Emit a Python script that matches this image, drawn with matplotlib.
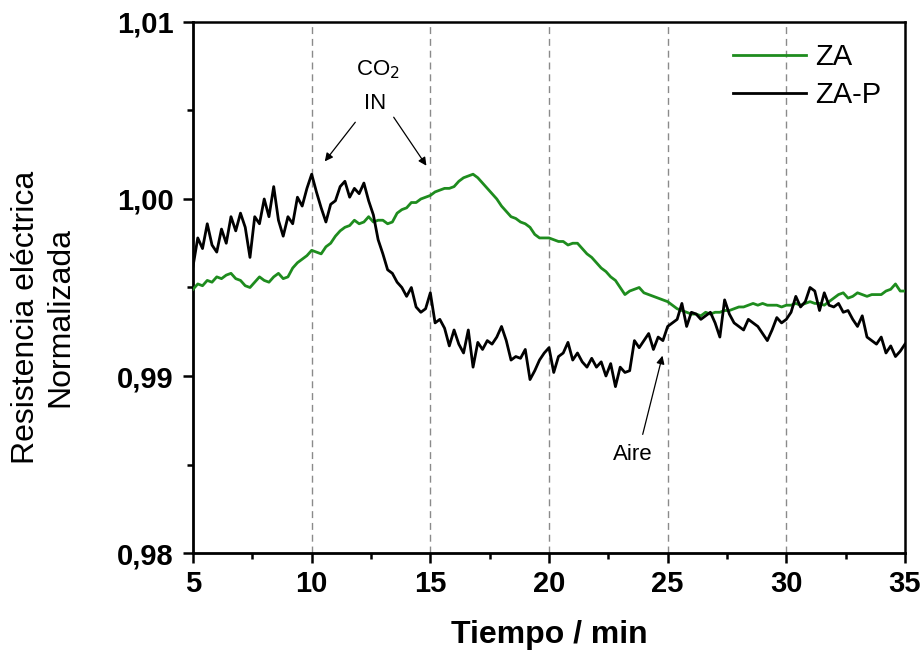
import numpy as np
import matplotlib
matplotlib.use("Agg")
import matplotlib.pyplot as plt
from matplotlib.ticker import MultipleLocator, FuncFormatter

plt.rcParams['font.family'] = ['Liberation Sans', 'DejaVu Sans']

# Normalised electrical resistance, sampled every 0.2 min from 5 to 35 min
za = [
    0.9949, 0.9952, 0.9951, 0.9954, 0.9953, 0.9956, 0.9955, 0.9957, 0.9958, 0.9955,
    0.9954, 0.9951, 0.9950, 0.9953, 0.9956, 0.9954, 0.9953, 0.9956, 0.9958, 0.9955,
    0.9956, 0.9961, 0.9964, 0.9966, 0.9968, 0.9971, 0.9970, 0.9969, 0.9973, 0.9975,
    0.9979, 0.9982, 0.9984, 0.9985, 0.9988, 0.9986, 0.9987, 0.9990, 0.9987, 0.9988,
    0.9988, 0.9986, 0.9987, 0.9992, 0.9994, 0.9995, 0.9998, 0.9998, 1.0000, 1.0001,
    1.0002, 1.0004, 1.0005, 1.0006, 1.0006, 1.0007, 1.0010, 1.0012, 1.0013, 1.0014,
    1.0012, 1.0009, 1.0006, 1.0003, 1.0000, 0.9996, 0.9993, 0.9990, 0.9989, 0.9987,
    0.9986, 0.9984, 0.9980, 0.9978, 0.9978, 0.9978, 0.9977, 0.9976, 0.9976, 0.9974,
    0.9975, 0.9975, 0.9972, 0.9969, 0.9967, 0.9964, 0.9961, 0.9959, 0.9956, 0.9954,
    0.9950, 0.9946, 0.9948, 0.9949, 0.9950, 0.9947, 0.9946, 0.9945, 0.9944, 0.9943,
    0.9942, 0.9940, 0.9938, 0.9937, 0.9936, 0.9935, 0.9935, 0.9934, 0.9936, 0.9935,
    0.9936, 0.9936, 0.9937, 0.9937, 0.9938, 0.9939, 0.9939, 0.9940, 0.9941, 0.9940,
    0.9941, 0.9940, 0.9940, 0.9940, 0.9939, 0.9940, 0.9940, 0.9941, 0.9940, 0.9941,
    0.9942, 0.9941, 0.9941, 0.9940, 0.9942, 0.9944, 0.9946, 0.9947, 0.9944, 0.9945,
    0.9947, 0.9946, 0.9945, 0.9946, 0.9946, 0.9946, 0.9948, 0.9949, 0.9952, 0.9948,
    0.9948,
]

za_p = [
    0.9962, 0.9978, 0.9972, 0.9986, 0.9974, 0.9970, 0.9983, 0.9975, 0.9990, 0.9982,
    0.9992, 0.9984, 0.9967, 0.9990, 0.9986, 1.0000, 0.9990, 1.0007, 0.9988, 0.9979,
    0.9990, 0.9986, 1.0001, 0.9996, 1.0006, 1.0014, 1.0004, 0.9995, 0.9987, 0.9997,
    0.9999, 1.0007, 1.0010, 1.0001, 1.0006, 1.0003, 1.0009, 0.9999, 0.9991, 0.9977,
    0.9969, 0.9960, 0.9958, 0.9953, 0.9950, 0.9945, 0.9950, 0.9939, 0.9936, 0.9938,
    0.9947, 0.9930, 0.9932, 0.9927, 0.9917, 0.9926, 0.9918, 0.9913, 0.9926, 0.9905,
    0.9919, 0.9915, 0.9920, 0.9918, 0.9922, 0.9928, 0.9920, 0.9909, 0.9911, 0.9910,
    0.9915, 0.9898, 0.9903, 0.9909, 0.9913, 0.9916, 0.9902, 0.9911, 0.9913, 0.9919,
    0.9909, 0.9913, 0.9908, 0.9905, 0.9910, 0.9905, 0.9908, 0.9900, 0.9907, 0.9894,
    0.9905, 0.9902, 0.9903, 0.9920, 0.9916, 0.9920, 0.9924, 0.9915, 0.9922, 0.9920,
    0.9928, 0.9930, 0.9932, 0.9941, 0.9928, 0.9936, 0.9935, 0.9932, 0.9934, 0.9936,
    0.9930, 0.9922, 0.9943, 0.9935, 0.9930, 0.9928, 0.9926, 0.9932, 0.9930, 0.9928,
    0.9924, 0.9920, 0.9926, 0.9933, 0.9930, 0.9932, 0.9936, 0.9945, 0.9939, 0.9942,
    0.9950, 0.9948, 0.9937, 0.9947, 0.9940, 0.9939, 0.9941, 0.9936, 0.9937, 0.9932,
    0.9928, 0.9934, 0.9922, 0.9920, 0.9918, 0.9922, 0.9913, 0.9917, 0.9911, 0.9914,
    0.9918,
]

t_za = np.linspace(5, 35, len(za))
t_zap = np.linspace(5, 35, len(za_p))

gas_switch_times = [10, 15, 20, 25, 30]
x_ticks = [5, 10, 15, 20, 25, 30, 35]
y_ticks = [0.98, 0.99, 1.00, 1.01]

fig = plt.figure(figsize=(9.24, 6.54), dpi=100)
ax = fig.add_axes([0.2089, 0.1544, 0.7705, 0.812])

for xv in gas_switch_times:
    ax.axvline(xv, color='#8a8a8a', lw=1.0, ls=(0, (5, 3.5)), zorder=1)

ax.plot(t_za, za, color='#1e8c1e', lw=2.0, label='ZA', zorder=3)
ax.plot(t_zap, za_p, color='black', lw=2.0, label='ZA-P', zorder=4)

ax.set_xlim(5, 35)
ax.set_ylim(0.98, 1.01)
ax.set_xticks(x_ticks)
ax.set_yticks(y_ticks)
ax.xaxis.set_minor_locator(MultipleLocator(2.5))
ax.yaxis.set_minor_locator(MultipleLocator(0.005))
ax.yaxis.set_major_formatter(FuncFormatter(lambda v, p: f"{v:.2f}".replace('.', ',')))

ax.tick_params(axis='both', which='major', direction='out', length=7, width=1.8,
               top=False, right=False)
ax.tick_params(axis='both', which='minor', direction='out', length=4.5, width=1.8,
               top=False, right=False)
ax.tick_params(axis='y', which='major', labelsize=21, pad=7)
ax.tick_params(axis='x', which='major', labelsize=21, pad=5)
for lab in ax.get_xticklabels() + ax.get_yticklabels():
    lab.set_fontweight('bold')

for side in ['left', 'bottom']:
    ax.spines[side].set_linewidth(2.0)
for side in ['top', 'right']:
    ax.spines[side].set_linewidth(1.8)

ax.set_xlabel('Tiempo / min', fontsize=23, fontweight='bold', labelpad=16)
fig.text(0.047, 0.515, 'Resistencia eléctrica\nNormalizada', rotation=90,
         ha='center', va='center', fontsize=23, multialignment='center',
         linespacing=1.2)

leg = ax.legend(loc='upper right', bbox_to_anchor=(0.995, 0.999), frameon=False,
                fontsize=21, handlelength=2.5, handletextpad=0.3,
                labelspacing=0.35, borderaxespad=0.3)

# Gas-switch annotations
ax.text(12.8, 1.0073, 'CO$_2$', ha='center', va='center', fontsize=16)
ax.text(12.67, 1.0054, 'IN', ha='center', va='center', fontsize=16)
arrow_kw = dict(arrowstyle='-|>', color='black', lw=0.9, mutation_scale=12)
ax.annotate('', xy=(10.48, 1.0020), xytext=(11.91, 1.00446), arrowprops=arrow_kw)
ax.annotate('', xy=(14.90, 1.00175), xytext=(13.39, 1.00475), arrowprops=arrow_kw)
ax.text(23.54, 0.98554, 'Aire', ha='center', va='center', fontsize=16)
ax.annotate('', xy=(24.81, 0.9913), xytext=(23.92, 0.98655), arrowprops=arrow_kw)

fig.savefig('out.png', dpi=100)
